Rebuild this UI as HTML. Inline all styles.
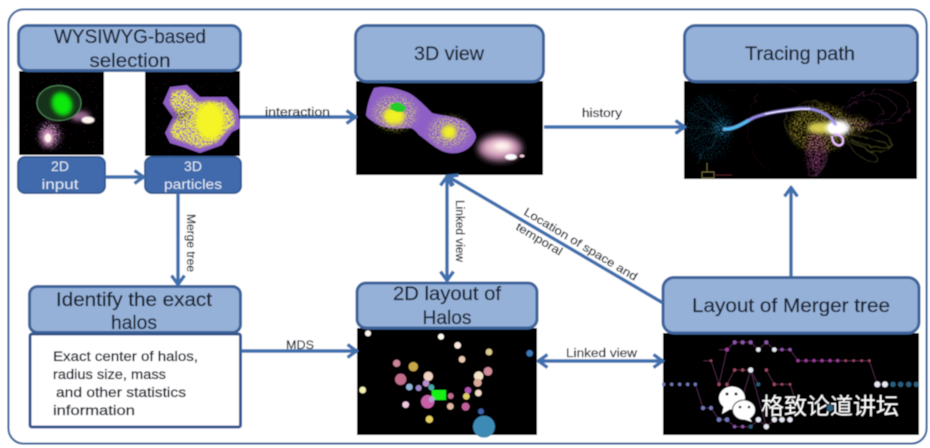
<!DOCTYPE html>
<html><head><meta charset="utf-8">
<style>
html,body{margin:0;padding:0;background:#fff}
svg{display:block}
text{font-family:"Liberation Sans","Noto Sans CJK SC",sans-serif}
</style></head>
<body>
<svg width="930" height="448" viewBox="0 0 930 448" xmlns="http://www.w3.org/2000/svg">
<defs>
<filter id="b1" x="-20%" y="-20%" width="140%" height="140%"><feGaussianBlur stdDeviation="0.45"/></filter>
<filter id="b2" x="-50%" y="-50%" width="200%" height="200%"><feGaussianBlur stdDeviation="2"/></filter>
<filter id="b3" x="-50%" y="-50%" width="200%" height="200%"><feGaussianBlur stdDeviation="3.5"/></filter>
<filter id="sp" x="-40%" y="-40%" width="180%" height="180%" color-interpolation-filters="sRGB"><feGaussianBlur in="SourceGraphic" stdDeviation="3" result="g"/><feTurbulence type="fractalNoise" baseFrequency="0.7" numOctaves="2" seed="3" result="n"/><feColorMatrix in="n" type="matrix" values="0 0 0 0 0 0 0 0 0 0 0 0 0 0 0 7 0 0 0 -3.4" result="m"/><feComposite in="g" in2="m" operator="in"/><feGaussianBlur stdDeviation="0.35"/></filter>
<filter id="sp3" x="-20%" y="-20%" width="140%" height="140%" color-interpolation-filters="sRGB"><feGaussianBlur in="SourceGraphic" stdDeviation="1" result="g"/><feTurbulence type="fractalNoise" baseFrequency="0.6" numOctaves="2" seed="8" result="n"/><feColorMatrix in="n" type="matrix" values="0 0 0 0 0 0 0 0 0 0 0 0 0 0 0 8 0 0 0 -3.2" result="m"/><feComposite in="g" in2="m" operator="in"/><feGaussianBlur stdDeviation="0.3"/></filter>
<filter id="sp2" x="-10%" y="-10%" width="120%" height="120%" color-interpolation-filters="sRGB"><feGaussianBlur in="SourceGraphic" stdDeviation="5" result="g"/><feTurbulence type="fractalNoise" baseFrequency="0.9" numOctaves="1" seed="11" result="n"/><feColorMatrix in="n" type="matrix" values="0 0 0 0 0 0 0 0 0 0 0 0 0 0 0 9 0 0 0 -6" result="m"/><feComposite in="g" in2="m" operator="in"/><feGaussianBlur stdDeviation="0.3"/></filter>
<filter id="sq" x="-20%" y="-20%" width="140%" height="140%"><feTurbulence type="fractalNoise" baseFrequency="0.12" numOctaves="2" seed="6"/><feDisplacementMap in="SourceGraphic" scale="7"/><feGaussianBlur stdDeviation="0.5"/></filter>
<marker id="ah" viewBox="0 0 14 16" refX="12.5" refY="8" markerWidth="14" markerHeight="16" markerUnits="userSpaceOnUse" orient="auto-start-reverse"><path d="M3 1.5 L12 8 L3 14.500" fill="none" stroke="#3f6fae" stroke-width="3.4"/></marker>
<clipPath id="c1"><rect x="19" y="71" width="85" height="84"/></clipPath>
<clipPath id="c2"><rect x="145" y="71" width="95" height="85"/></clipPath>
<clipPath id="c3"><rect x="356" y="81" width="187" height="94"/></clipPath>
<clipPath id="c4"><rect x="684" y="81" width="233" height="98"/></clipPath>
</defs>
<g filter="url(#b1)">
<rect x="8.5" y="9.5" width="918" height="434" rx="15" fill="#fff" stroke="#46699a" stroke-width="2"/>

<!-- Images -->
<rect x="19" y="71" width="85" height="84" fill="#050205"/>
<rect x="145" y="71" width="95" height="85" fill="#050205"/>
<rect x="356" y="81" width="187" height="94" fill="#000"/>
<rect x="684" y="81" width="233" height="98" fill="#000"/>
<rect x="357" y="328" width="180" height="107" fill="#000"/>
<rect x="663" y="333" width="256" height="102" fill="#000"/>

<!-- 2D input image -->
<g clip-path="url(#c1)">
<rect x="19" y="71" width="85" height="84" fill="#a86aa0" filter="url(#sp2)" opacity=".4"/>
<ellipse cx="50" cy="135" rx="11" ry="13" fill="#c58fc0" filter="url(#sp)"/>
<ellipse cx="48" cy="137" rx="7" ry="9" fill="#c98cb8" filter="url(#b2)"/>
<ellipse cx="48" cy="138" rx="3.500" ry="4.500" fill="#fff4ec" filter="url(#b1)"/>
<ellipse cx="80" cy="116" rx="10" ry="5" fill="#9a6a90" filter="url(#b2)"/>
<ellipse cx="88" cy="120" rx="6.500" ry="3.500" fill="#fff6f2" filter="url(#b1)"/>
<ellipse cx="59" cy="103" rx="22" ry="17.500" fill="#16301a" stroke="#4f8a55" stroke-width="1"/>
<ellipse cx="62" cy="104" rx="10" ry="12" fill="#0fe80f" filter="url(#b2)" transform="rotate(-25 62 104)"/>
</g>

<!-- 3D particles -->
<g clip-path="url(#c2)">
<rect x="145" y="71" width="95" height="85" fill="#a868a0" filter="url(#sp2)" opacity=".35"/>
<path d="M170 87 L187 85 L200 97 L227 97 L238 110 L240 128 L232 132 L222 145 L200 153 L183 147 L170 143 L165 133 L173 117 L163 103Z" fill="#8f5fc4"/>
<path d="M172 91 L186 90 L197 102 L224 102 L234 114 L235 125 L226 132 L216 143 L200 148 L184 142 L173 138 L170 130 L178 116 L170 103Z" fill="#f0ee30" filter="url(#sp3)"/>
<ellipse cx="210" cy="121" rx="15" ry="19" fill="#f4f428" filter="url(#b2)"/>
<ellipse cx="181" cy="115" rx="9" ry="5" fill="#1f1a20" filter="url(#sp)"/>
</g>

<!-- 3D view -->
<g clip-path="url(#c3)">
<path d="M374 88 C385 85 400 89 409 93 C418 98 426 107 432 113 C442 116 458 116 467 123 C472 128 476 133 476 137 C474 146 465 152 457 153 C450 154 445 152 442 151 C432 146 425 139 419 135 C415 130 412 128 410 128 C403 128 396 129 389 128 C383 127 378 125 375 123 C371 120 367 118 366 115 C367 108 368 100 374 88Z" fill="#8e60c6"/>
<ellipse cx="395" cy="113" rx="22" ry="18" fill="#e4dd66" filter="url(#sp)" opacity=".8"/>
<ellipse cx="449" cy="132" rx="20" ry="16" fill="#e4dd66" filter="url(#sp)" opacity=".8"/>
<ellipse cx="394" cy="116" rx="11" ry="9" fill="#f0f028" filter="url(#b2)"/>
<ellipse cx="449" cy="132" rx="7.500" ry="7" fill="#f0f028" filter="url(#b2)"/>
<path d="M391 104 L399 102 L406 107 L404 112 L397 112 L390 109Z" fill="#22cc2c"/>
<ellipse cx="500" cy="148" rx="22" ry="13" fill="#c890b4" filter="url(#b3)"/>
<ellipse cx="500" cy="147" rx="14" ry="7" fill="#e6c0cc" filter="url(#b2)"/>
<ellipse cx="502" cy="146" rx="8" ry="4" fill="#fff4f0" filter="url(#b2)"/>
<ellipse cx="511" cy="157" rx="6" ry="3" fill="#fff" filter="url(#b1)"/>
<ellipse cx="522" cy="156" rx="2.500" ry="1.500" fill="#f2c8dc"/>
</g>

<!-- Tracing path -->
<g clip-path="url(#c4)">
<ellipse cx="708" cy="128" rx="26" ry="34" fill="#1e5f7a" opacity=".3" filter="url(#sp)"/>
<ellipse cx="722" cy="128" rx="9" ry="9" fill="#2f8fb8" opacity=".7" filter="url(#sp)"/>
<g fill="none" stroke-width=".8" filter="url(#sq)" opacity=".65">
<path d="M846 115 C860 80 905 85 908 105 C912 125 875 128 850 122" stroke="#55264c"/>
<path d="M835 120 C850 85 885 90 895 105 C900 122 865 128 845 128" stroke="#5c2a54"/>
<path d="M840 112 C862 92 890 100 880 118 C870 128 855 125 845 122" stroke="#4e2446"/>
<path d="M800 138 C775 130 782 108 812 100 C825 98 820 125 830 130" stroke="#75702c"/>
<path d="M805 148 C785 140 785 120 815 112 C830 110 825 130 832 135" stroke="#6a6628"/>
<path d="M850 128 C880 132 893 132 890 146 C880 150 860 145 850 138" stroke="#8a8a40"/>
<path d="M850 134 C872 140 892 140 888 150 C878 155 860 148 850 142" stroke="#78783a"/>
<path d="M850 140 C870 150 885 160 875 162 C860 160 850 150 848 140" stroke="#6d6a38"/>
<path d="M820 135 C808 160 804 176 811 176 C825 176 826 150 826 135" stroke="#8a4a7a"/>
<path d="M826 135 C818 155 810 170 817 172 C826 170 830 150 830 136" stroke="#7a3f6c"/>
<path d="M730 92 C755 78 790 85 800 96 M760 95 C740 110 745 160 770 170" stroke="#2c1622"/>
<path d="M700 98 L725 125 M690 140 L722 128 M695 165 L722 130 M688 112 L722 128 M686 128 H722 M700 158 L722 132" stroke="#174658"/>
</g>
<ellipse cx="820" cy="128" rx="32" ry="24" fill="#c8b844" opacity=".6" filter="url(#sp)"/>
<ellipse cx="816" cy="152" rx="10" ry="22" fill="#b85a98" opacity=".65" filter="url(#sp)"/>
<ellipse cx="855" cy="125" rx="14" ry="8" fill="#c8a860" opacity=".7" filter="url(#sp)"/>
<ellipse cx="821" cy="128" rx="14" ry="6" fill="#ece05a" opacity=".9" filter="url(#b2)"/>
<ellipse cx="838" cy="128" rx="12" ry="8" fill="#fff" filter="url(#b2)"/>
<ellipse cx="836" cy="128" rx="8" ry="6" fill="#fff"/>
<path d="M723 129 C733 130 742 124 753 118 C765 113 780 111 795 109 C808 107 820 110 828 116 C832 119 834 122 836 125" fill="none" stroke="#9d90ee" stroke-width="3" filter="url(#b1)"/>
<path d="M765 114 C780 111 795 109 810 109" fill="none" stroke="#f2eaff" stroke-width="1.200"/>
<path d="M723 129 C733 130 741 125 749 120" fill="none" stroke="#4ec0f0" stroke-width="3" filter="url(#b1)"/>
<path d="M832 136 C832 146 842 148 843 142 C844 136 838 134 834 134" fill="none" stroke="#e8bcff" stroke-width="2.200"/>
<path d="M707 163 V172 M702 172 H714 V178 H702Z" fill="none" stroke="#6f6a3a" stroke-width=".9"/>
<path d="M714 175 H732" stroke="#4e1c1c" stroke-width=".9"/>
</g>

<!-- 2D layout dots -->
<g transform="translate(350 270) scale(.3333)">
<circle cx="54" cy="190" r="9" fill="#fff5ee"/><circle cx="273" cy="200" r="9" fill="#fffaf2"/>
<circle cx="323" cy="226" r="10" fill="#fbe9dc"/><circle cx="417" cy="246" r="10" fill="#d9c98a"/>
<circle cx="539" cy="250" r="10" fill="#3e78b8"/><circle cx="336" cy="268" r="10" fill="#e8c9b4"/>
<circle cx="140" cy="280" r="11" fill="#c98699"/><circle cx="190" cy="290" r="14" fill="#c6a647"/>
<circle cx="414" cy="304" r="13" fill="#cd8a98"/><circle cx="235" cy="319" r="14" fill="#f2d2c0"/>
<circle cx="386" cy="318" r="14" fill="#f3e2c3"/><circle cx="152" cy="328" r="17" fill="#c06d8c"/>
<circle cx="383" cy="338" r="12" fill="#dca99d"/><circle cx="228" cy="340" r="10" fill="#b78fca"/>
<circle cx="178" cy="351" r="10" fill="#8fb6d8"/><circle cx="206" cy="354" r="9" fill="#9d86c8"/>
<circle cx="244" cy="352" r="9" fill="#4ba8a8"/><circle cx="354" cy="361" r="10" fill="#b055b0"/>
<circle cx="38" cy="360" r="10" fill="#f4f0b4"/><circle cx="385" cy="369" r="10" fill="#f2dac8"/>
<circle cx="302" cy="378" r="9" fill="#b86a8a"/><circle cx="349" cy="379" r="10" fill="#e0cc66"/>
<circle cx="233" cy="395" r="20" fill="#c860a8"/>
<circle cx="167" cy="404" r="10" fill="#eec8e0"/><circle cx="301" cy="409" r="10" fill="#e0b8a0"/>
<circle cx="347" cy="410" r="12" fill="#c0609c"/><circle cx="393" cy="424" r="9" fill="#3c62a8"/>
<circle cx="238" cy="448" r="11" fill="#e4d060"/><circle cx="402" cy="470" r="33" fill="#3e8ab4"/>
<rect x="245" y="360" width="43" height="30" fill="#14f014"/>
<circle cx="245" cy="388" r="9" fill="#b79ad0"/>
</g>

<!-- Merger tree -->
<g transform="translate(650 270) scale(.3333)">
<g fill="none" stroke="#4e2c48" stroke-width="2.500">
<path d="M160 272 H183 L207 343 L231 239 L254 217 H302 L325 239 L349 217 L373 239 H420 L444 272 H658 L682 343"/>
<path d="M207 239 H231 M231 343 L254 300 H302 L325 343 M349 300 L373 343 H420 L444 414"/>
<path d="M136 343 L159 414 H183 L207 449 H231 L254 470 H302 L325 449 L349 470 L373 449 H420 M302 300 L278 380 M302 300 L349 470"/>
</g>
<g fill="#7179b8"><circle cx="41" cy="343" r="5"/><circle cx="65" cy="343" r="5"/><circle cx="89" cy="343" r="5"/><circle cx="113" cy="343" r="5"/><circle cx="136" cy="343" r="5"/><circle cx="159" cy="414" r="6"/><circle cx="183" cy="414" r="6"/><circle cx="207" cy="449" r="7"/><circle cx="231" cy="449" r="7"/></g>
<g fill="#8a56a8"><circle cx="254" cy="217" r="6"/><circle cx="278" cy="217" r="6"/><circle cx="302" cy="217" r="6"/><circle cx="349" cy="217" r="6"/><circle cx="396" cy="239" r="5"/><circle cx="420" cy="239" r="5"/><circle cx="254" cy="470" r="5"/><circle cx="278" cy="470" r="5"/></g>
<g fill="#9a3c9a"><circle cx="231" cy="239" r="6"/><circle cx="444" cy="272" r="5"/><circle cx="468" cy="272" r="5"/><circle cx="492" cy="272" r="5"/><circle cx="516" cy="272" r="5"/><circle cx="540" cy="272" r="5"/><circle cx="563" cy="272" r="5"/></g>
<g fill="#9c4a62"><circle cx="183" cy="272" r="4"/><circle cx="587" cy="272" r="4"/><circle cx="611" cy="272" r="4"/><circle cx="635" cy="272" r="4"/><circle cx="658" cy="272" r="4"/><circle cx="207" cy="343" r="5"/><circle cx="231" cy="343" r="5"/><circle cx="254" cy="300" r="5"/><circle cx="278" cy="300" r="5"/><circle cx="349" cy="300" r="5"/><circle cx="373" cy="343" r="5"/><circle cx="396" cy="343" r="4"/><circle cx="420" cy="343" r="4"/></g>
<g fill="#e6e8f2"><circle cx="302" cy="300" r="8"/><circle cx="325" cy="239" r="7"/><circle cx="373" cy="239" r="7"/><circle cx="682" cy="343" r="9"/><circle cx="705" cy="343" r="9"/><circle cx="325" cy="449" r="8"/><circle cx="349" cy="470" r="8"/><circle cx="373" cy="449" r="8"/><circle cx="396" cy="449" r="8"/><circle cx="420" cy="449" r="8"/></g>
<g fill="#2a5f7c"><circle cx="729" cy="343" r="8"/><circle cx="752" cy="343" r="8"/><circle cx="776" cy="343" r="8"/><circle cx="799" cy="343" r="8"/><circle cx="302" cy="470" r="6"/><circle cx="325" cy="343" r="6"/><circle cx="540" cy="414" r="10"/></g>
</g>

<!-- Title boxes -->
<g fill="#95b1d8" stroke="#3d649b" stroke-width="3">
<rect x="18.5" y="25.5" width="222" height="45" rx="9"/>
<rect x="355.5" y="25.5" width="188" height="56" rx="11"/>
<rect x="684.5" y="25.5" width="233" height="56" rx="11"/>
<rect x="29.5" y="286.5" width="211" height="46" rx="8"/>
<rect x="357" y="283" width="180" height="45" rx="9"/>
<rect x="663" y="277.5" width="256" height="55.5" rx="11"/>
</g>
<rect x="18" y="157" width="87" height="36" rx="7" fill="#3f6bac" stroke="#355c96" stroke-width="2"/>
<rect x="145" y="157" width="96" height="36" rx="7" fill="#3f6bac" stroke="#355c96" stroke-width="2"/>
<rect x="30" y="334" width="210.500" height="93" rx="2" fill="#fff" stroke="#36578f" stroke-width="3"/>

<!-- Connectors -->
<g fill="none" stroke="#3f6fae" stroke-width="3.400">
<path d="M105 177 H144" marker-end="url(#ah)"/>
<path d="M240 117 H356" marker-end="url(#ah)"/>
<path d="M544 127 H685" marker-end="url(#ah)"/>
<path d="M178 193 V285" marker-end="url(#ah)"/>
<path d="M241 351 H357" marker-end="url(#ah)"/>
<path d="M447 176 V281" marker-start="url(#ah)" marker-end="url(#ah)"/>
<path d="M663 303 L447 176" marker-end="url(#ah)"/>
<path d="M538 361 H663" marker-start="url(#ah)" marker-end="url(#ah)"/>
<path d="M791 277 V187" marker-end="url(#ah)"/>
</g>

<!-- Title text -->
<g fill="#1a2230" stroke="#1a2230" stroke-width=".25" font-size="19" text-anchor="middle">
<text x="130" y="43" textLength="152" lengthAdjust="spacingAndGlyphs">WYSIWYG-based</text>
<text x="130" y="67" textLength="81" lengthAdjust="spacingAndGlyphs">selection</text>
<text x="449" y="60" textLength="70" lengthAdjust="spacingAndGlyphs">3D view</text>
<text x="800" y="60" textLength="110" lengthAdjust="spacingAndGlyphs">Tracing path</text>
<text x="134" y="306" textLength="156" lengthAdjust="spacingAndGlyphs">Identify the exact</text>
<text x="134" y="329" textLength="46" lengthAdjust="spacingAndGlyphs">halos</text>
<text x="447" y="300" textLength="108" lengthAdjust="spacingAndGlyphs">2D layout of</text>
<text x="447" y="324" textLength="49" lengthAdjust="spacingAndGlyphs">Halos</text>
<text x="791" y="312" textLength="198" lengthAdjust="spacingAndGlyphs">Layout of Merger tree</text>
</g>
<g fill="#dfe7f4" font-size="14" text-anchor="middle">
<text x="60" y="171">2D</text>
<text x="60" y="189" textLength="37" lengthAdjust="spacingAndGlyphs">input</text>
<text x="193" y="171">3D</text>
<text x="193" y="189" textLength="58" lengthAdjust="spacingAndGlyphs">particles</text>
</g>
<g fill="#141a26" stroke="#141a26" stroke-width=".3" font-size="13.500">
<text x="53" y="361" textLength="145" lengthAdjust="spacingAndGlyphs">Exact center of halos,</text>
<text x="53" y="379" textLength="113" lengthAdjust="spacingAndGlyphs">radius size, mass</text>
<text x="56" y="397" textLength="130" lengthAdjust="spacingAndGlyphs">and other statistics</text>
<text x="53" y="415" textLength="82" lengthAdjust="spacingAndGlyphs">information</text>
</g>
<g fill="#141a26" stroke="#141a26" stroke-width=".2" font-size="11.500">
<text x="265" y="116" textLength="65" lengthAdjust="spacingAndGlyphs">interaction</text>
<text x="582" y="117" textLength="40" lengthAdjust="spacingAndGlyphs">history</text>
<text x="286" y="349" textLength="28" lengthAdjust="spacingAndGlyphs">MDS</text>
<text x="566" y="357" textLength="71" lengthAdjust="spacingAndGlyphs">Linked view</text>
<text transform="translate(187 214) rotate(90)" textLength="58" lengthAdjust="spacingAndGlyphs">Merge tree</text>
<text transform="translate(456 200) rotate(90)" textLength="62" lengthAdjust="spacingAndGlyphs">Linked view</text>
<text transform="translate(523 214) rotate(31)" textLength="130" lengthAdjust="spacingAndGlyphs">Location of space and</text>
<text transform="translate(515 229) rotate(31)" textLength="52" lengthAdjust="spacingAndGlyphs">temporal</text>
</g>

<!-- Watermark -->
<g fill="#fff">
<ellipse cx="732" cy="398" rx="13" ry="11.500"/>
<path d="M724 405 L722 414 L732 408Z"/>
<ellipse cx="744" cy="410" rx="11.500" ry="10" stroke="#222" stroke-width="1"/>
<path d="M749 417 L752 422 L743 419Z"/>
<g fill="#222"><circle cx="727" cy="394" r="1.500"/><circle cx="736" cy="394" r="1.500"/><circle cx="740" cy="407" r="1.300"/><circle cx="749" cy="407" r="1.300"/></g>
<text x="761" y="414" font-size="23" textLength="138" font-family="'Noto Sans CJK SC',sans-serif">格致论道讲坛</text>
</g>
</g>
</svg>
</body></html>
